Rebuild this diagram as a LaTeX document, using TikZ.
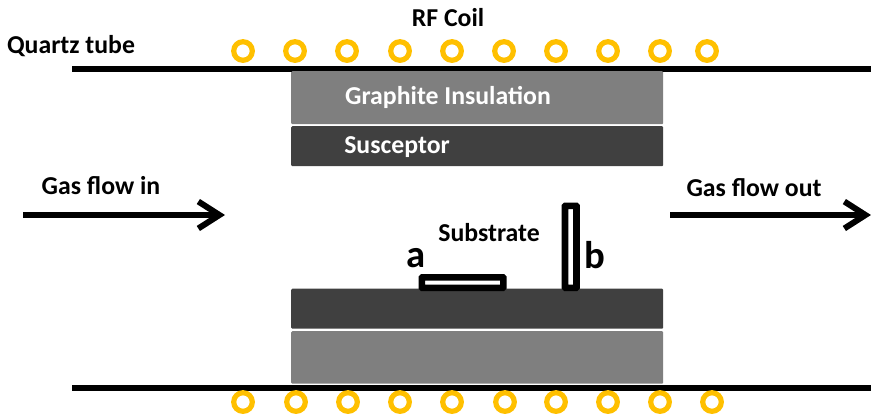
\documentclass[tikz,border=0pt]{standalone}
\usepackage{fontspec}
\setmainfont{Carlito}
\usetikzlibrary{arrows.meta}
\definecolor{coilgold}{RGB}{255,192,0}
\definecolor{graphitegray}{RGB}{127,127,127}
\definecolor{susceptorgray}{RGB}{64,64,64}
\tikzset{
lab/.style={inner sep=0pt,font=\fontsize{22}{26}\selectfont\bfseries},
whitelab/.style={lab,text=white},
letterlab/.style={inner sep=0pt,font=\fontsize{33}{38}\selectfont\bfseries},
coil/.style={circle,draw=coilgold,line width=5.2*0.03cm,minimum size=18.6*0.03cm,inner sep=0pt},
block/.style={rounded corners=1pt,inner sep=0pt,anchor=north west,minimum width=372*0.03cm},
sub/.style={draw=black,fill=white,line width=6.6*0.03cm,rounded corners=0.5pt,inner sep=0pt,anchor=north west},
tube/.style={line width=6*0.03cm},
flow/.style={line width=6*0.03cm,-{Straight Barb[length=18pt,width=23pt,line width=6*0.03cm]}}
}
\begin{document}
\begin{tikzpicture}[x=0.03cm,y=-0.03cm]
\useasboundingbox (0,0) rectangle (871,417);

\coordinate (tubeAl) at (72,68.5);
\coordinate (tubeAr) at (871,68.5);
\coordinate (tubeBl) at (72,387.5);
\coordinate (tubeBr) at (871,387.5);
\draw[tube] (tubeAl) -- (tubeAr);
\draw[tube] (tubeBl) -- (tubeBr);

\foreach \x/\n in {243/1,295/2,347/3,400/4,452/5,504/6,556/7,608/8,660/9,707/10}
{
\node[coil] (coilA\n) at (\x,51) {};
}
\foreach \x/\n in {243/1,296/2,348/3,400/4,452/5,505/6,556/7,608/8,660/9,712/10}
{
\node[coil] (coilB\n) at (\x,402) {};
}

\node[block,fill=graphitegray,minimum height=53*0.03cm] (insA) at (291,71) {};
\node[block,fill=susceptorgray,minimum height=40*0.03cm] (susA) at (291,126) {};
\node[block,fill=susceptorgray,minimum height=40*0.03cm] (susB) at (291,288.5) {};
\node[block,fill=graphitegray,minimum height=52.5*0.03cm] (insB) at (291,331) {};

\node[sub,minimum width=81.5*0.03cm,minimum height=10.5*0.03cm] (subA) at (418.5,274) {};
\node[sub,minimum width=11.5*0.03cm,minimum height=82*0.03cm] (subB) at (561.7,202.5) {};

\node[lab] (rfcoil) at (448,18) {RF Coil};
\node[lab] (quartz) at (71,46) {Quartz tube};
\node[whitelab] (inslab) at (448,97.5) {Graphite Insulation};
\node[whitelab] (suslab) at (397,147.5) {Susceptor};
\node[lab] (inlab) at (101,186) {Gas flow in};
\node[lab] (outlab) at (754,188) {Gas flow out};
\node[lab] (sublab) at (489,233) {Substrate};
\node[letterlab] (alab) at (416,258) {a};
\node[letterlab] (blab) at (595,255) {b};

\coordinate (inS) at (23,215);
\coordinate (inE) at (225,215);
\coordinate (outS) at (670,215);
\coordinate (outE) at (871,215);
\draw[flow] (inS) -- (inE);
\draw[flow] (outS) -- (outE);
\end{tikzpicture}
\end{document}
